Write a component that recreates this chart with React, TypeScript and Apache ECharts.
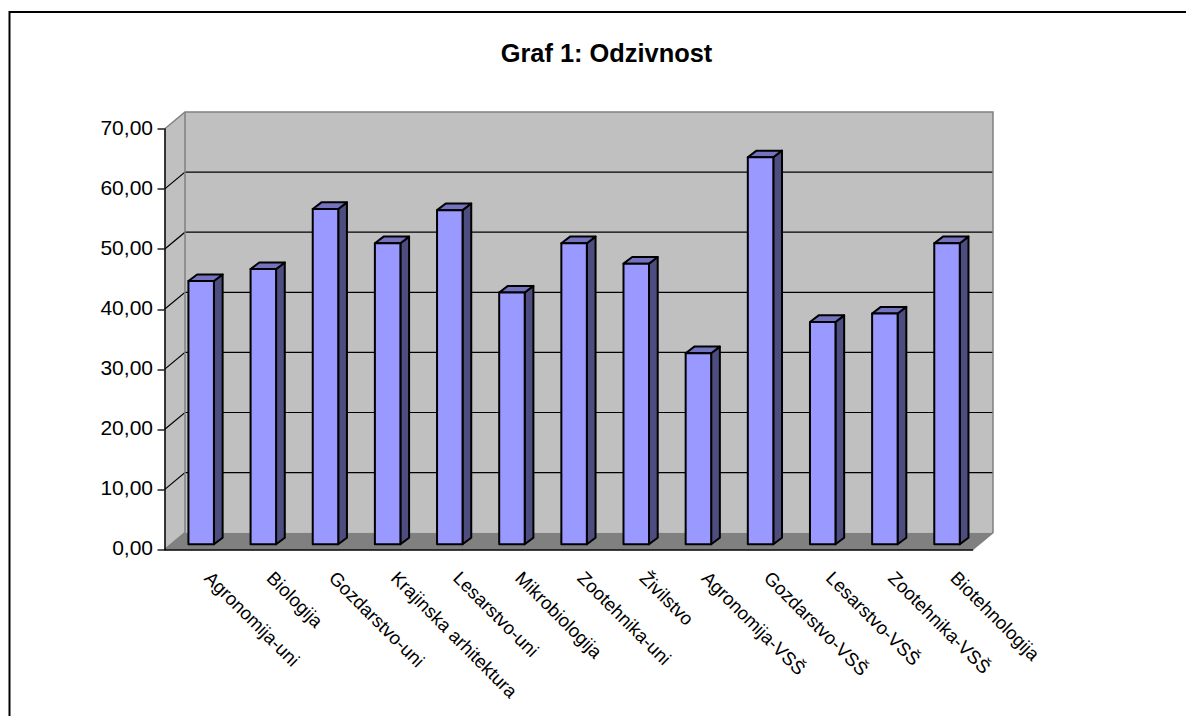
import React, { useEffect, useRef } from "react";
import * as echarts from "echarts";

const categories = [
  "Agronomija-uni", "Biologija", "Gozdarstvo-uni", "Krajinska arhitektura", "Lesarstvo-uni",
  "Mikrobiologija", "Zootehnika-uni", "Živilstvo", "Agronomija-VSŠ", "Gozdarstvo-VSŠ",
  "Lesarstvo-VSŠ", "Zootehnika-VSŠ", "Biotehnologija",
];
const odzivnost = [43.8, 45.8, 55.8, 50.1, 55.6, 41.9, 50.1, 46.7, 31.8, 64.4, 37.0, 38.4, 50.1];
const yTicks = [0, 10, 20, 30, 40, 50, 60, 70];
const titleText = "Graf 1: Odzivnost";

const FONT = "'Liberation Sans', Arial, sans-serif";
const WALL_DX = 20.5;
const WALL_DY = 17;
const BAR_SHIFT_X = 5.6;
const BAR_SHIFT_Y = 5.4;
const BAR_W = 25.5;
const BAR_DX = 8.7;
const BAR_DY = 6.6;

export default function App() {
  const ref = useRef<HTMLDivElement>(null);
  useEffect(() => {
    document.body.style.margin = "0";
    const chart = echarts.init(ref.current!, null, { renderer: "svg" });
    const GREY = "#808080";
    chart.setOption({
      animation: false,
      backgroundColor: "#ffffff",
      title: {
        text: titleText,
        left: 601.5,
        top: 35,
        textAlign: "center",
        textStyle: { fontFamily: FONT, fontSize: 25.4, fontWeight: "bold", color: "#000" },
      },
      grid: { left: 164.5, top: 129, width: 808, height: 420.7, containLabel: false },
      xAxis: {
        type: "category",
        data: categories,
        z: 10,
        axisLine: { lineStyle: { color: "#000", width: 1.5 } },
        axisTick: { length: 7, lineStyle: { color: "#000", width: 1.5 }, alignWithLabel: false },
        axisLabel: {
          interval: 0,
          rotate: -45,
          margin: 26,
          verticalAlign: "bottom",
          padding: [0, 0, 0, 8],
          fontFamily: FONT,
          fontSize: 18.6,
          color: "#000",
        },
      },
      yAxis: {
        type: "value",
        min: 0,
        max: 70,
        interval: 10,
        z: 10,
        axisLine: { show: true, lineStyle: { color: "#000", width: 1.5 } },
        axisTick: { show: true, length: 7, lineStyle: { color: "#222", width: 1.5 } },
        splitLine: { show: false },
        axisLabel: {
          margin: 11.5,
          verticalAlign: "bottom",
          lineHeight: 4,
          fontFamily: FONT,
          fontSize: 21,
          color: "#000",
          formatter: (v: number) => v.toFixed(2).replace(".", ","),
        },
      },
      graphic: [
        {
          type: "polyline",
          silent: true,
          shape: { points: [[9.5, 716], [9.5, 12], [1186, 12]] },
          style: { stroke: "#000", lineWidth: 2, fill: "none" },
        },
      ],
      series: [
        {
          type: "custom",
          z: 1,
          silent: true,
          clip: false,
          data: [[0, 0]],
          renderItem: (_p: any, api: any) => {
            const [x0, y0] = api.coord([0, 0]);
            const step = api.size([1, 0])[0];
            const left = x0 - step / 2;
            const right = left + step * categories.length;
            const yTop = api.coord([0, yTicks[yTicks.length - 1]])[1];
            const children: any[] = [
              {
                type: "polygon",
                shape: { points: [[left, y0], [left + WALL_DX, y0 - WALL_DY], [left + WALL_DX, yTop - WALL_DY], [left, yTop]] },
                style: { fill: "#C0C0C0" },
              },
              {
                type: "rect",
                shape: { x: left + WALL_DX, y: yTop - WALL_DY, width: right - left, height: y0 - yTop },
                style: { fill: "#C0C0C0" },
              },
              {
                type: "polygon",
                shape: { points: [[left, y0], [left + WALL_DX, y0 - WALL_DY], [right + WALL_DX, y0 - WALL_DY], [right, y0]] },
                style: { fill: "#808080" },
              },
            ];
            yTicks.slice(1, -1).forEach((v) => {
              const y = api.coord([0, v])[1];
              children.push({
                type: "polyline",
                shape: { points: [[left, y], [left + WALL_DX, y - WALL_DY], [right + WALL_DX, y - WALL_DY]] },
                style: { stroke: "#000", lineWidth: 1.2, fill: "none" },
              });
            });
            children.push({
              type: "polyline",
              shape: {
                points: [
                  [left, yTop], [left + WALL_DX, yTop - WALL_DY], [right + WALL_DX, yTop - WALL_DY],
                  [right + WALL_DX, y0 - WALL_DY], [right, y0],
                ],
              },
              style: { stroke: GREY, lineWidth: 1.5, fill: "none" },
            });
            children.push({
              type: "polyline",
              shape: { points: [[left, y0], [left + WALL_DX, y0 - WALL_DY], [left + WALL_DX, yTop - WALL_DY]] },
              style: { stroke: GREY, lineWidth: 1.5, fill: "none" },
            });
            return { type: "group", children };
          },
        },
        {
          type: "custom",
          z: 2,
          silent: true,
          clip: false,
          encode: { x: 0, y: 1 },
          data: odzivnost.map((v, i) => [i, v]),
          renderItem: (_p: any, api: any) => {
            const base = api.coord([api.value(0), 0]);
            const top = api.coord([api.value(0), api.value(1)]);
            const x1 = base[0] + BAR_SHIFT_X - BAR_W / 2;
            const x2 = x1 + BAR_W;
            const yb = base[1] - BAR_SHIFT_Y;
            const yt = top[1] - BAR_SHIFT_Y;
            const line = { stroke: "#000", lineWidth: 2, lineJoin: "round" };
            return {
              type: "group",
              children: [
                {
                  type: "polygon",
                  shape: { points: [[x2, yt], [x2 + BAR_DX, yt - BAR_DY], [x2 + BAR_DX, yb - BAR_DY], [x2, yb]] },
                  style: { fill: "#4D4D80", ...line },
                },
                {
                  type: "polygon",
                  shape: { points: [[x1, yt], [x1 + BAR_DX, yt - BAR_DY], [x2 + BAR_DX, yt - BAR_DY], [x2, yt]] },
                  style: { fill: "#7373BF", ...line },
                },
                {
                  type: "rect",
                  shape: { x: x1, y: yt, width: BAR_W, height: yb - yt },
                  style: { fill: "#9999FF", ...line },
                },
              ],
            };
          },
        },
      ],
    });
    return () => chart.dispose();
  }, []);
  return <div ref={ref} style={{ width: 1186, height: 716 }} />;
}
